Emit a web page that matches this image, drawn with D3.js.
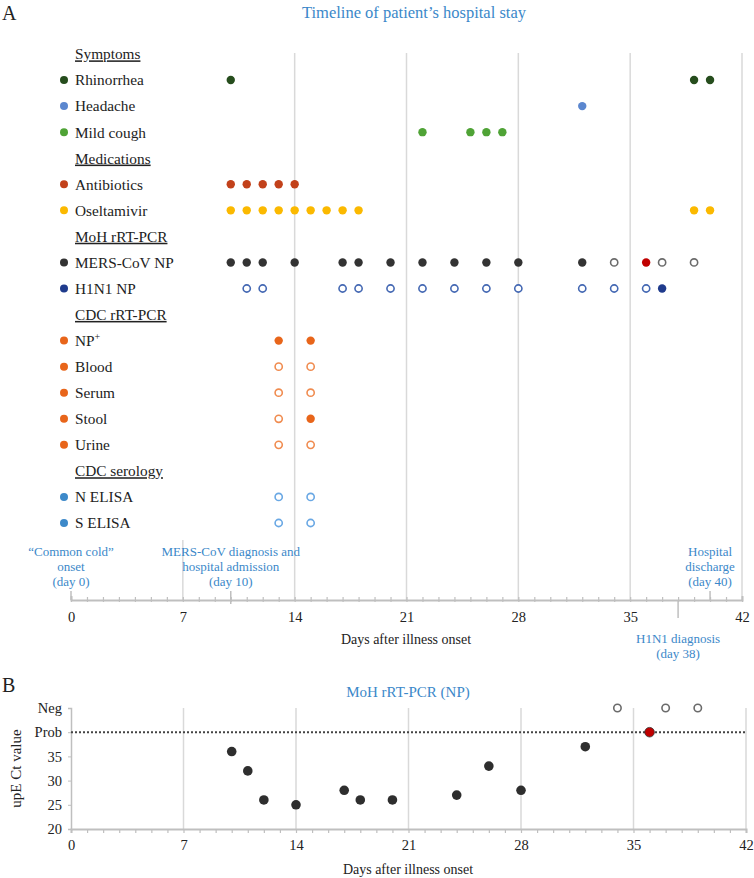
<!DOCTYPE html>
<html><head><meta charset="utf-8">
<script src="https://cdn.jsdelivr.net/npm/d3@7"></script>
<style>
html,body{margin:0;padding:0;background:#fff;}
svg{display:block;font-family:"Liberation Serif","DejaVu Serif",serif;}
</style></head>
<body><svg id="chart" width="754" height="878"></svg>
<script>
// ---------- DATA ----------
const rowLabels = ["Symptoms","Rhinorrhea","Headache","Mild cough","Medications","Antibiotics","Oseltamivir",
  "MoH rRT-PCR","MERS-CoV NP","H1N1 NP","CDC rRT-PCR","NP","Blood","Serum","Stool","Urine",
  "CDC serology","N ELISA","S ELISA"];
const headerRows = ["Symptoms","Medications","MoH rRT-PCR","CDC rRT-PCR","CDC serology"];
const rowColors = {"Rhinorrhea":"#264d1d","Headache":"#5b87cf","Mild cough":"#4fa336","Antibiotics":"#c2411a",
  "Oseltamivir":"#fbb900","MERS-CoV NP":"#333333","H1N1 NP":"#1f3b8c","NP":"#e8651a","Blood":"#e8651a",
  "Serum":"#e8651a","Stool":"#e8651a","Urine":"#e8651a","N ELISA":"#3d89c9","S ELISA":"#3d89c9"};
const openColors = {"MERS-CoV NP":"#6b6b6b","H1N1 NP":"#4468b3","NP":"#f08c50","Blood":"#f08c50","Serum":"#f08c50",
  "Stool":"#f08c50","Urine":"#f08c50","N ELISA":"#6aa8e4","S ELISA":"#6aa8e4"};

const rhinorrheaDays = [10,39,40];
const headacheDays = [32];
const coughDays = [22,25,26,27];
const antibioticDays = [10,11,12,13,14];
const oseltamivirDays = [10,11,12,13,14,15,16,17,18,39,40];
const mersPosDays = [10,11,12,14,17,18,20,22,24,26,28,32];
const mersProbDays = [36];
const mersNegDays = [34,37,39];
const h1n1NegDays = [11,12,17,18,20,22,24,26,28,32,34,36];
const h1n1PosDays = [37];
const npPosDays = [13,15];
const bloodNegDays = [13,15];
const serumNegDays = [13,15];
const stoolNegDays = [13];
const stoolPosDays = [15];
const urineNegDays = [13,15];
const nElisaNegDays = [13,15];
const sElisaNegDays = [13,15];

const filledSeries = [
  ["Rhinorrhea", rhinorrheaDays], ["Headache", headacheDays], ["Mild cough", coughDays],
  ["Antibiotics", antibioticDays], ["Oseltamivir", oseltamivirDays], ["MERS-CoV NP", mersPosDays],
  ["H1N1 NP", h1n1PosDays], ["NP", npPosDays], ["Stool", stoolPosDays]];
const openSeries = [
  ["MERS-CoV NP", mersNegDays], ["H1N1 NP", h1n1NegDays], ["Blood", bloodNegDays], ["Serum", serumNegDays],
  ["Stool", stoolNegDays], ["Urine", urineNegDays], ["N ELISA", nElisaNegDays], ["S ELISA", sElisaNegDays]];
const probSeries = [["MERS-CoV NP", mersProbDays]];

const dayTicks = d3.range(0, 43);
const majorDays = [0,7,14,21,28,35,42];

const aboveNotes = [
  {day:0, lines:["\u201CCommon cold\u201D","onset","(day 0)"]},
  {day:10, lines:["MERS-CoV diagnosis and","hospital admission","(day 10)"]},
  {day:40, lines:["Hospital","discharge","(day 40)"]}];
const belowNotes = [{day:38, lines:["H1N1 diagnosis","(day 38)"]}];

// Panel B
const ctDays = [10,11,12,14,17,18,20,24,26,28,32];
const ctValues = [36,32,26,25,28,26,26,27,33,28,37];
const ctProbDays = [36];
const ctNegDays = [34,37,39];
const ctTicks = [20,25,30,35,40,45];
const ctTickLabels = {40:"Prob",45:"Neg"};
const PROB = 40, NEG = 45;

// ---------- DRAW ----------
const svg = d3.select("#chart");
const ink = "#222", blue = "#3b88c9", gridC = "#d9d9d9", axisC = "#bfbfbf";

svg.append("text").attr("x",2).attr("y",20).attr("font-size",20).attr("fill",ink).text("A");
svg.append("text").attr("x",414).attr("y",18).attr("text-anchor","middle").attr("font-size",16.5)
  .attr("fill",blue).text("Timeline of patient\u2019s hospital stay");

const x = d3.scaleLinear().domain([0,42]).range([71,742]);
const y = d3.scalePoint().domain(rowLabels).range([54,523]);
const axisY = 600;

// gridlines
const gA = svg.append("g");
gA.selectAll("line.grid").data(majorDays.filter(d=>d>0)).join("line")
  .attr("x1",d=>x(d)).attr("x2",d=>x(d))
  .attr("y1",d=> d===7 ? 540 : 53).attr("y2",axisY)
  .attr("stroke",gridC).attr("stroke-width",1.5);

// axis
const axA = d3.axisBottom(x).tickValues(dayTicks).tickSize(-4).tickPadding(12)
  .tickFormat(d => majorDays.includes(d) ? d : "");
const gAx = svg.append("g").attr("transform",`translate(0,${axisY})`).call(axA);
gAx.select(".domain").attr("stroke",axisC).attr("stroke-width",2);
gAx.selectAll(".tick line").attr("stroke",axisC).attr("stroke-width",1.2).attr("y2",-3).attr("y1",2);
gAx.selectAll(".tick text").attr("font-size",14.5).attr("fill",ink).attr("font-family","Liberation Serif");
svg.append("text").attr("x",406).attr("y",644).attr("text-anchor","middle").attr("font-size",14)
  .attr("fill",ink).text("Days after illness onset");

// annotations
aboveNotes.forEach(n=>{
  svg.append("line").attr("x1",x(n.day)).attr("x2",x(n.day)).attr("y1",591).attr("y2",n.day===10?604:axisY)
    .attr("stroke",axisC).attr("stroke-width",1.5);
  const t = svg.append("text").attr("text-anchor","middle").attr("font-size",13).attr("fill",blue);
  n.lines.forEach((l,i)=> t.append("tspan").attr("x",x(n.day)).attr("y",556+i*15).text(l));
});
belowNotes.forEach(n=>{
  svg.append("line").attr("x1",x(n.day)).attr("x2",x(n.day)).attr("y1",axisY).attr("y2",618)
    .attr("stroke",axisC).attr("stroke-width",1.5);
  const t = svg.append("text").attr("text-anchor","middle").attr("font-size",13).attr("fill",blue);
  n.lines.forEach((l,i)=> t.append("tspan").attr("x",x(n.day)).attr("y",643+i*15).text(l));
});

// row labels
const labG = svg.append("g");
rowLabels.forEach(r=>{
  const isHeader = headerRows.includes(r);
  const t = labG.append("text").attr("x",75).attr("y",y(r)).attr("dy","0.35em").attr("font-size",15.3).attr("fill",ink);
  if (isHeader) { t.attr("text-decoration","underline").text(r); }
  else {
    t.text(r);
    if (r==="NP") t.append("tspan").attr("font-size",10).attr("dy","-0.6em").text("+");
    labG.append("circle").attr("cx",64).attr("cy",y(r)).attr("r",4).attr("fill",rowColors[r]);
  }
});

// dots
const dotsG = svg.append("g");
filledSeries.forEach(([r,days])=>{
  dotsG.selectAll(null).data(days).join("circle").attr("cx",d=>x(d)).attr("cy",y(r)).attr("r",4.2)
    .attr("fill",rowColors[r]);
});
probSeries.forEach(([r,days])=>{
  dotsG.selectAll(null).data(days).join("circle").attr("cx",d=>x(d)).attr("cy",y(r)).attr("r",4.2)
    .attr("fill","#c00000");
});
openSeries.forEach(([r,days])=>{
  dotsG.selectAll(null).data(days).join("circle").attr("cx",d=>x(d)).attr("cy",y(r)).attr("r",3.6)
    .attr("fill","#fff").attr("stroke",openColors[r]).attr("stroke-width",1.6);
});

// ---------- Panel B ----------
svg.append("text").attr("x",2).attr("y",692).attr("font-size",20).attr("fill",ink).text("B");
const xb = d3.scaleLinear().domain([0,42]).range([71,746]);
const yb = d3.scaleLinear().domain([20,45]).range([829,708]);
svg.append("text").attr("x",408).attr("y",697).attr("text-anchor","middle").attr("font-size",15)
  .attr("fill",blue).text("MoH rRT-PCR (NP)");

svg.append("g").selectAll("line").data(majorDays.filter(d=>d>0)).join("line")
  .attr("x1",d=>xb(d)).attr("x2",d=>xb(d)).attr("y1",yb(45)).attr("y2",yb(20))
  .attr("stroke",gridC).attr("stroke-width",1.5);

const axBx = d3.axisBottom(xb).tickValues(dayTicks).tickSize(4).tickPadding(7)
  .tickFormat(d => majorDays.includes(d) ? d : "");
const gBx = svg.append("g").attr("transform",`translate(0,${yb(20)})`).call(axBx);
gBx.select(".domain").attr("stroke",axisC).attr("stroke-width",2);
gBx.selectAll(".tick line").attr("stroke",axisC).attr("stroke-width",1.2);
gBx.selectAll(".tick text").attr("font-size",14.5).attr("fill",ink).attr("font-family","Liberation Serif");

const axBy = d3.axisLeft(yb).tickValues(ctTicks).tickSize(3).tickPadding(6)
  .tickFormat(d => ctTickLabels[d] || d);
const gBy = svg.append("g").attr("transform",`translate(${xb(0)},0)`).call(axBy);
gBy.select(".domain").attr("stroke",axisC).attr("stroke-width",1.5);
gBy.selectAll(".tick line").attr("stroke",axisC);
gBy.selectAll(".tick text").attr("font-size",14.5).attr("fill",ink).attr("font-family","Liberation Serif");

svg.append("line").attr("x1",xb(0)).attr("x2",xb(42)).attr("y1",yb(PROB)).attr("y2",yb(PROB))
  .attr("stroke","#444").attr("stroke-width",2).attr("stroke-dasharray","2,2");

svg.append("text").attr("transform",`translate(21,${(yb(20)+yb(45))/2}) rotate(-90)`).attr("text-anchor","middle")
  .attr("font-size",15).attr("fill",ink).text("upE Ct value");
svg.append("text").attr("x",408).attr("y",874).attr("text-anchor","middle").attr("font-size",14)
  .attr("fill",ink).text("Days after illness onset");

const ctData = ctDays.map((d,i)=>({day:d, v:ctValues[i]}));
svg.append("g").selectAll("circle").data(ctData).join("circle")
  .attr("cx",d=>xb(d.day)).attr("cy",d=>yb(d.v)).attr("r",4.8).attr("fill","#2e2e2e");
svg.append("g").selectAll("circle").data(ctProbDays).join("circle")
  .attr("cx",d=>xb(d)).attr("cy",yb(PROB)).attr("r",4.8).attr("fill","#c00000").attr("stroke","#333").attr("stroke-width",0.8);
svg.append("g").selectAll("circle").data(ctNegDays).join("circle")
  .attr("cx",d=>xb(d)).attr("cy",yb(NEG)).attr("r",3.7).attr("fill","#fff").attr("stroke","#6b6b6b").attr("stroke-width",1.6);
</script></body></html>
